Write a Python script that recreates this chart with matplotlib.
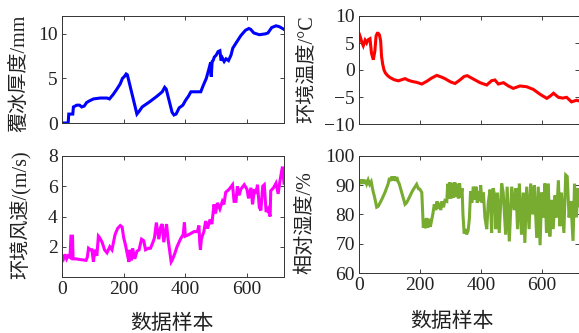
import matplotlib.pyplot as plt

# ---- data ----
ice_x = [0, 20, 22, 35, 37, 48, 57, 64, 72, 80, 90, 102, 124, 146, 154, 166, 178, 189, 196,
         202, 208, 212, 243, 250, 260, 285, 308, 325, 333, 338, 357, 363, 370, 380, 392, 400,
         410, 418, 440, 450, 458, 468, 476, 482, 484, 487, 490, 494, 500, 506, 512, 516, 520,
         526, 532, 540, 548, 554, 565, 580, 595, 606, 612, 622, 640, 660, 668, 680, 694, 705, 720]
ice_y = [0, 0, 1.0, 1.0, 1.8, 2.0, 2.0, 1.8, 1.9, 2.3, 2.5, 2.7, 2.8, 2.8, 2.7, 3.2, 3.8, 4.4, 5.0,
         5.2, 5.5, 5.4, 1.0, 1.3, 1.8, 2.4, 3.0, 3.5, 4.0, 3.8, 1.2, 0.9, 1.0, 1.7, 2.0, 2.5,
         3.0, 3.5, 3.5, 3.5, 4.2, 5.0, 6.0, 6.8, 5.2, 6.9, 7.0, 7.4, 7.6, 8.0, 8.1, 7.0, 7.3,
         6.9, 7.2, 7.0, 7.6, 8.4, 9.0, 9.8, 10.4, 10.6, 10.5, 10.1, 9.9, 10.0, 10.1, 10.7, 10.9, 10.8, 10.5]

temp_x = [0, 5, 9, 14, 20, 25, 30, 36, 41, 47, 52, 56, 60, 63, 67, 71, 74, 78, 82, 87, 95,
          102, 115, 129, 140, 151, 162, 173, 190, 206, 222, 238, 255, 270, 282, 300, 315, 331,
          345, 355, 375, 397, 419, 435, 446, 457, 474, 490, 506, 528, 550, 572, 594, 616, 628,
          638, 654, 668, 681, 697, 714, 720]
temp_y = [6.8, 6.0, 5.2, 4.5, 5.5, 5.0, 5.6, 5.8, 3.1, 1.9, 3.5, 6.3, 6.8, 6.8, 6.5, 5.4, 2.5,
          1.0, 0.0, -0.6, -1.1, -1.4, -1.8, -2.0, -1.8, -1.6, -1.9, -2.1, -2.3, -2.6, -2.1, -1.5,
          -1.0, -1.3, -1.6, -2.2, -2.5, -1.85, -1.2, -1.05, -1.67, -2.35, -2.78, -1.98, -1.85,
          -2.6, -2.35, -2.96, -3.4, -2.96, -3.1, -3.6, -4.5, -5.25, -4.8, -4.3, -5.06, -5.2,
          -5.06, -5.9, -5.6, -5.7]

wind_x = [0, 5, 10, 15, 20, 26, 29, 34, 36, 45, 60, 78, 82, 86, 92, 97, 102, 106, 113, 118,
          122, 130, 138, 146, 155, 162, 167, 172, 180, 189, 195, 200, 205, 211, 217, 220, 225,
          229, 236, 243, 250, 258, 265, 271, 280, 287, 295, 300, 306, 314, 320, 325, 330, 339,
          344, 354, 357, 365, 373, 384, 393, 397, 400, 411, 428, 439, 444, 447, 449, 452, 455,
          460, 466, 472, 480, 486, 493, 498, 504, 512, 520, 525, 531, 542, 553, 558, 564, 569,
          574, 580, 591, 600, 605, 613, 618, 624, 629, 634, 640, 645, 651, 656, 662, 668, 675,
          677, 686, 694, 701, 708, 715, 720]
wind_y = [1.4, 1.2, 1.5, 1.2, 1.4, 1.3, 2.7, 2.7, 1.2, 1.2, 1.15, 1.1, 1.3, 1.9, 1.8, 1.8, 1.0,
          1.8, 1.4, 2.7, 2.6, 2.3, 1.8, 1.6, 2.0, 1.8, 2.3, 2.8, 3.2, 3.4, 3.3, 2.6, 2.2, 1.6, 1.0,
          1.8, 1.1, 1.9, 1.2, 1.7, 1.8, 2.5, 2.4, 1.8, 1.9, 1.9, 2.3, 2.6, 3.6, 2.5, 3.3, 3.5, 2.3,
          3.5, 2.5, 1.0, 1.1, 1.5, 2.0, 2.5, 2.8, 3.6, 2.7, 2.8, 3.0, 3.0, 3.4, 2.2, 1.8, 2.5, 2.7,
          3.0, 3.7, 3.2, 3.8, 3.5, 4.8, 4.2, 4.9, 4.5, 5.0, 4.8, 5.6, 5.8, 6.1, 5.0, 5.0, 6.0, 5.4,
          5.8, 6.1, 5.8, 5.2, 5.9, 4.8, 5.8, 5.5, 6.1, 4.6, 4.4, 6.0, 6.1, 4.3, 4.5, 4.0, 5.7,
          5.9, 6.2, 5.5, 6.5, 7.3, 6.2]

hum_x = [0, 4, 8, 12, 16, 20, 25, 30, 35, 40, 45, 52, 58, 63, 74, 85, 96, 100, 104, 108, 112,
         116, 120, 124, 128, 132, 140, 151, 156, 162, 175, 189, 195, 200, 206, 209, 211, 214,
         218, 222, 226, 230, 234, 238, 242, 247, 252, 256, 260, 264, 268, 272, 277, 282, 288,
         291, 294, 298, 302, 306, 310, 314, 318, 322, 326, 330, 334, 338, 341, 345, 349, 353,
         358, 362, 366, 370, 375, 380, 384, 388, 392, 396, 399, 404, 408, 413, 419, 424, 430,
         435, 440, 446, 449, 454, 460, 468, 473, 481, 486, 493, 501, 509, 515, 520, 526, 533,
         539, 544, 550, 558, 563, 570, 575, 583, 588, 594, 599, 604, 610, 615, 621, 626, 632,
         637, 643, 648, 654, 659, 664, 672, 678, 683, 689, 695, 702, 707, 713, 718, 720]
hum_y = [90.6, 92, 90.5, 92, 90.5, 91.8, 90.4, 91.8, 90.3, 91.2, 88.5, 85.5, 82.5, 82.8, 85,
         87.5, 90.6, 92.5, 91.5, 93, 91.6, 93, 91.5, 92.8, 91.3, 90.5, 87.5, 83.5, 84, 85.2, 88,
         90.3, 88.8, 88.6, 87.5, 80, 75.5, 78.5, 75.3, 78.8, 75.5, 78.5, 75.8, 78, 80, 83.5,
         81.5, 84.5, 82, 84, 81.5, 84.5, 82.5, 84.8, 84.5, 90.5, 85.5, 91, 85.5, 90.8, 85.8, 91,
         86, 90.5, 85.5, 90.6, 85.8, 89, 80, 73.5, 75, 73.2, 74.5, 78.5, 88, 84, 89.5, 85, 89.5,
         84, 88, 84.5, 90, 84, 87.5, 79, 75, 84, 88.5, 73.7, 89, 86, 75, 87.5, 73.7, 90.6, 87.5,
         73.1, 89.5, 70.8, 89.5, 81.5, 89, 75, 90.6, 73.1, 87.5, 70.3, 89.5, 75, 90.6, 80, 90,
         72, 89.5, 69.5, 87.5, 79, 90.6, 73.7, 90.6, 72.5, 85, 75, 86.5, 79, 91.7, 76, 87.5,
         73.7, 93.5, 93, 79, 84.5, 71, 90.5, 79, 89, 83]

xticks = [0, 200, 400, 600]

panels = [
    # (box in px: l, t, r, b), x, y, colour, ylim, yticks, ylabel, ylabel centre px, xlabel centre px
    ([62, 16, 284, 123], ice_x, ice_y, '#0000FF', (0, 12), [0, 5, 10], '覆冰厚度/mm', (20, 73), None),
    ([359, 16, 578.5, 124], temp_x, temp_y, '#FF0000', (-10, 10), [-10, -5, 0, 5, 10], '环境温度/°C', (308, 69), None),
    ([62, 156, 284, 277], wind_x, wind_y, '#FF00FF', (0, 8), [2, 4, 6, 8], '环境风速/(m/s)', (21, 215), (172, 324)),
    ([359, 156, 578.5, 273], hum_x, hum_y, '#77AC30', (60, 100), [60, 70, 80, 90, 100], '相对湿度/%', (306, 223), (452, 322)),
]

W, H = 579, 333
fams = ['Liberation Serif', 'Noto Sans CJK SC']
plt.rcParams['font.family'] = fams
plt.rcParams['axes.unicode_minus'] = True

fig = plt.figure(figsize=(W / 100, H / 100), dpi=100)

for (l, t, r, b), x, y, col, ylim, yt, ylab, ypos, xpos in panels:
    ax = fig.add_axes([l / W, (H - b) / H, (r - l) / W, (b - t) / H])
    ax.plot(x, y, color=col, lw=2.2, solid_joinstyle='miter')
    ax.set_xlim(0, 720)
    ax.set_ylim(*ylim)
    ax.set_xticks(xticks)
    ax.set_yticks(yt)
    ax.tick_params(direction='in', top=True, right=True, length=3, width=0.6,
                   labelsize=14, pad=3, colors='#222222')
    for s in ax.spines.values():
        s.set_linewidth(0.7)
        s.set_color('#333333')
    if xpos:
        ax.set_xticklabels([str(v) for v in xticks])
        fig.text(xpos[0] / W, 1 - xpos[1] / H, '数据样本', fontsize=15, color='#222222',
                 ha='center', va='center')
    else:
        ax.set_xticklabels([])
    fig.text(ypos[0] / W, 1 - ypos[1] / H, ylab, fontsize=14.5, color='#222222',
             rotation=90, ha='center', va='center')

fig.savefig('out.png', dpi=100)
